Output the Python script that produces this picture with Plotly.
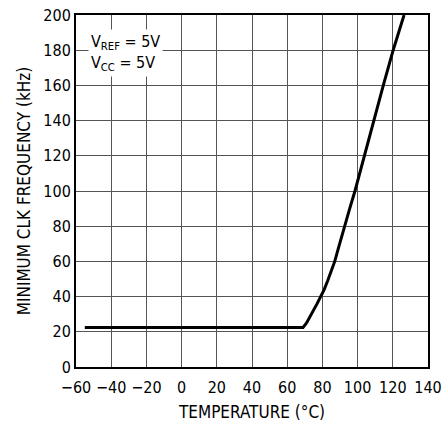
import plotly.graph_objects as go

# Minimum clock frequency vs temperature
temperature_c = [-55, 69, 71, 73, 75, 77, 79, 81, 83, 85, 87, 89.5, 92.5, 95.5, 98.5, 103.8, 109.2, 114.6, 120.2, 126.4]
min_clk_khz = [22.5, 22.5, 25, 28.5, 32, 36, 40, 44, 49, 54, 60, 69, 80, 90, 100, 120, 140, 160, 180, 200]

x_ticks = [-60, -40, -20, 0, 20, 40, 60, 80, 100, 120, 140]
y_ticks = [0, 20, 40, 60, 80, 100, 120, 140, 160, 180, 200]

FONT = "DejaVu Sans Condensed, Liberation Sans Narrow, Arial Narrow, sans-serif"

fig = go.Figure()
fig.add_trace(go.Scatter(
    x=temperature_c, y=min_clk_khz, mode="lines",
    line=dict(color="black", width=3),
    showlegend=False, hoverinfo="skip",
))

fig.add_annotation(
    x=0.035, y=0.96, xref="paper", yref="paper",
    xanchor="left", yanchor="top", align="left",
    text="V<sub>REF</sub> = 5V<br>V<sub>CC</sub> = 5V",
    showarrow=False, bgcolor="white", borderpad=2,
    font=dict(family=FONT, size=16, color="black"),
)

axis_common = dict(
    showgrid=True, gridcolor="#555555", gridwidth=1,
    showline=True, linecolor="black", linewidth=2, mirror=True,
    ticks="", zeroline=False, automargin=False, tickangle=0,
    tickfont=dict(family=FONT, size=16, color="black"),
)

fig.update_xaxes(
    range=[-60, 140], tickvals=x_ticks,
    ticktext=[("\u2212" + str(-v)) if v < 0 else str(v) for v in x_ticks],
    ticklabelstandoff=5,
    title=dict(text="TEMPERATURE (°C)", font=dict(family=FONT, size=17, color="black"), standoff=10),
    **axis_common,
)
fig.update_yaxes(
    range=[0, 200], tickvals=y_ticks,
    title=dict(text="MINIMUM CLK FREQUENCY (kHz)", font=dict(family=FONT, size=17, color="black"), standoff=8),
    **axis_common,
)

fig.update_layout(
    width=443, height=423,
    margin=dict(l=76, r=15, t=15, b=56),
    paper_bgcolor="white", plot_bgcolor="white",
)

fig.write_html("out.html")
